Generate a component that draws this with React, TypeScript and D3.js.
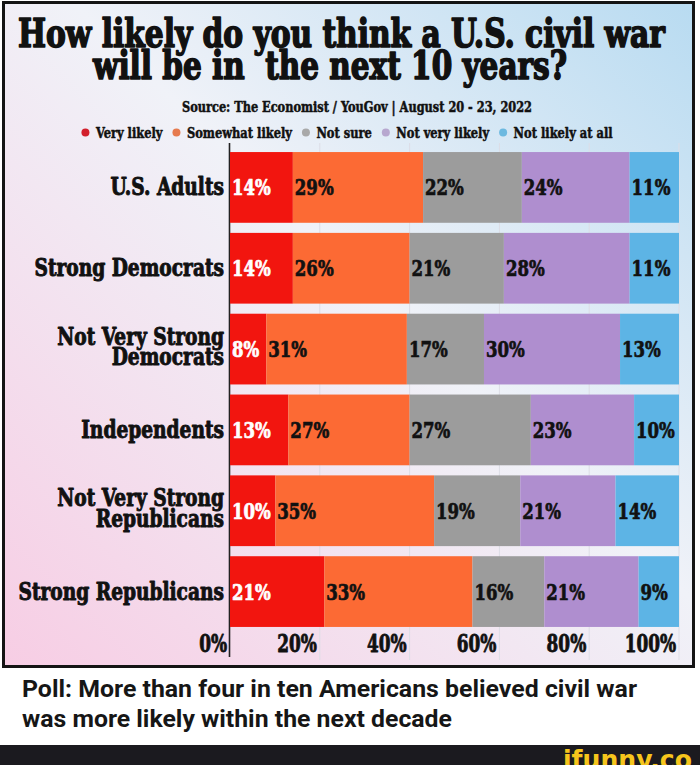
import React, { useEffect, useRef } from "react";
import * as d3 from "d3";

// ---------- data ----------
const categories = [
  "U.S. Adults",
  "Strong Democrats",
  "Not Very Strong|Democrats",
  "Independents",
  "Not Very Strong|Republicans",
  "Strong Republicans",
];
const seriesNames = ["Very likely", "Somewhat likely", "Not sure", "Not very likely", "Not likely at all"];
const veryLikely = [14, 14, 8, 13, 10, 21];
const somewhatLikely = [29, 26, 31, 27, 35, 33];
const notSure = [22, 21, 17, 27, 19, 16];
const notVeryLikely = [24, 28, 30, 23, 21, 21];
const notLikelyAtAll = [11, 11, 13, 10, 14, 9];
const tickValues = [0, 20, 40, 60, 80, 100];
const titleLines = ["How likely do you think a U.S. civil war", "will be in  the next 10 years?"];
const sourceText = "Source: The Economist / YouGov | August 20 - 23, 2022";
const captionLines = [
  "Poll: More than four in ten Americans believed civil war",
  "was more likely within the next decade",
];
const watermark = "ifunny.co";

// ---------- styles ----------
const barColors = ["#f2150f", "#fc6a34", "#9c9c9c", "#af8ecf", "#5db4e5"];
const dotColors = ["#d21f2c", "#e67a4e", "#a9a9a9", "#b7a7cf", "#6cb9e0"];
const SERIF = "'DejaVu Serif Condensed', 'DejaVu Serif', serif";
const SANS = "Roboto, 'Liberation Sans', sans-serif";
const K_VAL = 0.8; // horizontal condensing of value / tick labels
const K_CAT = 0.88; // horizontal condensing of category labels

export default function App() {
  const ref = useRef<SVGSVGElement | null>(null);

  useEffect(() => {
    const svg = d3.select(ref.current);
    svg.selectAll("*").remove();

    const defs = svg.append("defs");
    const grad = defs
      .append("linearGradient")
      .attr("id", "bg")
      .attr("x1", 1)
      .attr("y1", 0)
      .attr("x2", 0)
      .attr("y2", 1);
    grad.append("stop").attr("offset", 0).attr("stop-color", "#b8dbf1");
    grad.append("stop").attr("offset", 0.45).attr("stop-color", "#f0f2f8");
    grad.append("stop").attr("offset", 1).attr("stop-color", "#f7cde4");

    // frame
    svg
      .append("rect")
      .attr("x", 3.5)
      .attr("y", 2.5)
      .attr("width", 690)
      .attr("height", 664)
      .attr("fill", "url(#bg)")
      .attr("stroke", "#141414")
      .attr("stroke-width", 3);

    const serifText = (
      parent: any,
      x: number,
      y: number,
      text: string,
      size: number,
      opts: { anchor?: string; fill?: string; k?: number; stroke?: number; width?: number } = {}
    ) => {
      const g = parent.append("g").attr("transform", `translate(${x},${y}) scale(${opts.k ?? 1},1)`);
      const t = g
        .append("text")
        .attr("text-anchor", opts.anchor ?? "start")
        .attr("font-family", SERIF)
        .attr("font-weight", "bold")
        .attr("font-stretch", "condensed")
        .attr("font-size", size)
        .attr("fill", opts.fill ?? "#111")
        .attr("stroke", opts.fill ?? "#111")
        .attr("stroke-width", opts.stroke ?? 0.6)
        .attr("stroke-linejoin", "round")
        .style("white-space", "pre")
        .text(text);
      if (opts.width) t.attr("textLength", opts.width).attr("lengthAdjust", "spacingAndGlyphs");
      return t;
    };

    // title
    serifText(svg, 18, 47, titleLines[0], 40, { width: 647, stroke: 1.6 });
    serifText(svg, 93, 79, titleLines[1], 40, { width: 474, stroke: 1.6 });
    serifText(svg, 182, 112, sourceText, 15.5, { width: 350, stroke: 0.5 });

    // legend (laid out sequentially, centred)
    const legend = svg.append("g");
    let cursor = 0;
    const items: { cx: number; tx: number; w: number }[] = [];
    seriesNames.forEach((name) => {
      const tmp = serifText(legend, 0, -1000, name, 15.5, { k: 1 });
      const w = (tmp.node() as SVGTextElement).getComputedTextLength() * 0.82;
      tmp.node().parentNode.remove();
      items.push({ cx: cursor, tx: cursor + 10.5, w });
      cursor += 10.5 + w + 14;
    });
    const total = cursor - 14 + 4;
    const offset = 347 - total / 2 + 4;
    items.forEach((it, i) => {
      legend
        .append("circle")
        .attr("cx", offset + it.cx)
        .attr("cy", 132.5)
        .attr("r", 4)
        .attr("fill", dotColors[i]);
      serifText(legend, offset + it.tx, 137.5, seriesNames[i], 15.5, { width: it.w, stroke: 0.5 });
    });

    // scales
    const x = d3.scaleLinear().domain([0, 100]).range([230, 679]);
    const y = d3.scaleBand<string>().domain(categories).range([147, 632]).paddingInner(0.125).paddingOuter(0.0625);

    // gridlines
    svg
      .append("g")
      .selectAll("line")
      .data(tickValues.slice(1))
      .join("line")
      .attr("x1", (d) => x(d))
      .attr("x2", (d) => x(d))
      .attr("y1", 143)
      .attr("y2", 660)
      .attr("stroke", "#dcdde6")
      .attr("stroke-width", 1);

    // axis line
    svg
      .append("line")
      .attr("x1", 229.5)
      .attr("x2", 229.5)
      .attr("y1", 143)
      .attr("y2", 657)
      .attr("stroke", "#222")
      .attr("stroke-width", 1.6);

    // stacked bars (each row normalised to its own total)
    const series = [veryLikely, somewhatLikely, notSure, notVeryLikely, notLikelyAtAll];
    const rows = categories.map((c, i) => {
      const vals = series.map((s) => s[i]);
      const sum = d3.sum(vals);
      let acc = 0;
      return vals.map((v, j) => {
        const seg = { cat: c, j, v, x0: (acc / sum) * 100, x1: ((acc + v) / sum) * 100 };
        acc += v;
        return seg;
      });
    });
    const barG = svg.append("g");
    rows.flat().forEach((s) => {
      barG
        .append("rect")
        .attr("x", x(s.x0))
        .attr("y", y(s.cat)!)
        .attr("width", x(s.x1) - x(s.x0))
        .attr("height", y.bandwidth())
        .attr("fill", barColors[s.j]);
    });
    rows.flat().forEach((s) => {
      const cy = y(s.cat)! + y.bandwidth() / 2;
      serifText(barG, x(s.x0) + 2, cy + 8, `${s.v}%`, 23, {
        k: K_VAL,
        fill: s.j === 0 ? "#ffffff" : "#111",
        stroke: 0.7,
      });
    });

    // category labels
    categories.forEach((c) => {
      const cy = y(c)! + y.bandwidth() / 2;
      const parts = c.split("|");
      if (parts.length === 1) {
        serifText(svg, 224, cy + 8, parts[0], 23.5, { anchor: "end", k: K_CAT, stroke: 0.9 });
      } else {
        serifText(svg, 224, cy - 4.5, parts[0], 23.5, { anchor: "end", k: K_CAT, stroke: 0.9 });
        serifText(svg, 224, cy + 16, parts[1], 23.5, { anchor: "end", k: K_CAT, stroke: 0.9 });
      }
    });

    // tick labels
    tickValues.forEach((t) => {
      serifText(svg, x(t) - 3, 652, `${t}%`, 23.5, { anchor: "end", k: K_VAL, stroke: 0.8 });
    });

    // caption
    captionLines.forEach((line, i) => {
      svg
        .append("text")
        .attr("x", 22)
        .attr("y", 697 + i * 30)
        .attr("font-family", SANS)
        .attr("font-weight", 700)
        .attr("font-size", 23)
        .attr("fill", "#161616")
        .attr("textLength", i === 0 ? 615 : 430)
        .attr("lengthAdjust", "spacingAndGlyphs")
        .text(line);
    });

    // bottom bar
    svg.append("rect").attr("x", 0).attr("y", 745).attr("width", 700).attr("height", 20).attr("fill", "#1b1a1f");
    svg
      .append("text")
      .attr("x", 563)
      .attr("y", 769)
      .attr("font-family", "'DejaVu Sans', sans-serif")
      .attr("font-weight", "bold")
      .attr("font-size", 27)
      .attr("fill", "#f6c51c")
      .attr("textLength", 129)
      .attr("lengthAdjust", "spacingAndGlyphs")
      .text(watermark);
  }, []);

  return (
    <svg
      ref={ref}
      width={700}
      height={765}
      style={{ position: "absolute", left: 0, top: 0, background: "#ffffff", display: "block" }}
    />
  );
}
